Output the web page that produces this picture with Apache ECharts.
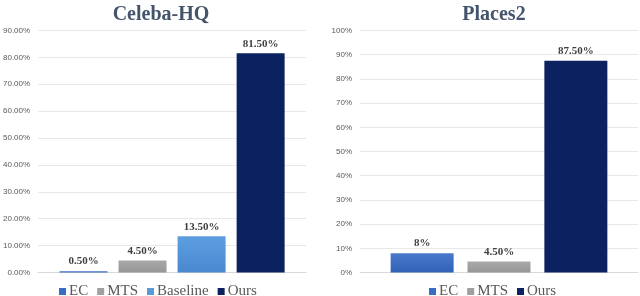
<!DOCTYPE html>
<html><head><meta charset="utf-8">
<script src="https://cdn.jsdelivr.net/npm/echarts@6/dist/echarts.min.js"></script>
<style>html,body{margin:0;padding:0;background:#fff}#c{width:640px;height:296px}</style>
</head><body><div id="c"></div>
<script>
const leftTitle = 'Celeba-HQ';
const rightTitle = 'Places2';
const leftSeries = ['EC', 'MTS', 'Baseline', 'Ours'];
const leftValues = [0.5, 4.5, 13.5, 81.5];
const leftLabels = ['0.50%', '4.50%', '13.50%', '81.50%'];
const rightSeries = ['EC', 'MTS', 'Ours'];
const rightValues = [8, 4.5, 87.5];
const rightLabels = ['8%', '4.50%', '87.50%'];
const leftTicks = {min: 0, max: 90, interval: 10};
const rightTicks = {min: 0, max: 100, interval: 10};

const serif = '"Liberation Serif","DejaVu Serif",serif';
const colors = {
  EC: {type:'linear',x:0,y:0,x2:0,y2:1,colorStops:[{offset:0,color:'#4a78cc'},{offset:1,color:'#2f62b8'}]},
  MTS: {type:'linear',x:0,y:0,x2:0,y2:1,colorStops:[{offset:0,color:'#a9a9a9'},{offset:1,color:'#969696'}]},
  Baseline: {type:'linear',x:0,y:0,x2:0,y2:1,colorStops:[{offset:0,color:'#5d9ee0'},{offset:1,color:'#4a88d0'}]},
  Ours: '#0c2160'
};
const legendColors = {EC:'#3b6cc4', MTS:'#a0a0a0', Baseline:'#5b9bd5', Ours:'#0c2160'};

function mkSeries(names, values, labels, idx, bw, gap) {
  return names.map((n, i) => ({
    name: n, type: 'bar', xAxisIndex: idx, yAxisIndex: idx,
    data: [{value: values[i], itemStyle: {color: colors[n]}}],
    barWidth: bw, barGap: gap,
    itemStyle: {color: legendColors[n]},
    label: {show: true, position: 'top', distance: 4, formatter: () => labels[i],
      fontFamily: serif, fontWeight: 'bold', fontSize: 11, color: '#404040'}
  }));
}

const yLabel = {fontSize: 8, color: '#595959', fontFamily: 'Liberation Sans, Arial, sans-serif', margin: 8};
const legendText = {fontFamily: serif, fontSize: 15, color: '#595959', padding: [0,0,0,-2]};
const chart = echarts.init(document.getElementById('c'));
chart.setOption({
  animation: false,
  title: [
    {text: leftTitle, left: 156, top: 0, textAlign: 'center',
     textStyle: {fontFamily: serif, fontWeight: 'bold', fontSize: 20, color: '#44546a'}},
    {text: rightTitle, left: 489, top: 0, textAlign: 'center',
     textStyle: {fontFamily: serif, fontWeight: 'bold', fontSize: 20, color: '#44546a'}}
  ],
  legend: [
    {data: leftSeries, left: 54, top: 279, icon: 'rect', itemWidth: 7, itemHeight: 7, itemGap: 9,
     textStyle: legendText},
    {data: rightSeries, left: 424, top: 279, icon: 'rect', itemWidth: 7, itemHeight: 7, itemGap: 9,
     textStyle: legendText}
  ],
  grid: [
    {left: 35, right: 334, top: 30.5, bottom: 23.5},
    {left: 360, right: 2, top: 30.5, bottom: 23.5}
  ],
  xAxis: [
    {type: 'category', gridIndex: 0, data: [''], axisTick: {show: false}, axisLabel: {show: false},
     axisLine: {lineStyle: {color: '#d9d9d9'}}},
    {type: 'category', gridIndex: 1, data: [''], axisTick: {show: false}, axisLabel: {show: false},
     axisLine: {lineStyle: {color: '#d9d9d9'}}}
  ],
  yAxis: [
    {type: 'value', gridIndex: 0, ...leftTicks, axisLine: {show: false}, axisTick: {show: false},
     splitLine: {lineStyle: {color: '#e8e8e8'}},
     axisLabel: {...yLabel, formatter: v => v.toFixed(2) + '%'}},
    {type: 'value', gridIndex: 1, ...rightTicks, axisLine: {show: false}, axisTick: {show: false},
     splitLine: {lineStyle: {color: '#e8e8e8'}},
     axisLabel: {...yLabel, formatter: v => v + '%'}}
  ],
  series: [
    ...mkSeries(leftSeries, leftValues, leftLabels, 0, 48, '23%'),
    ...mkSeries(rightSeries, rightValues, rightLabels, 1, 63, '22%')
  ]
});
</script></body></html>
